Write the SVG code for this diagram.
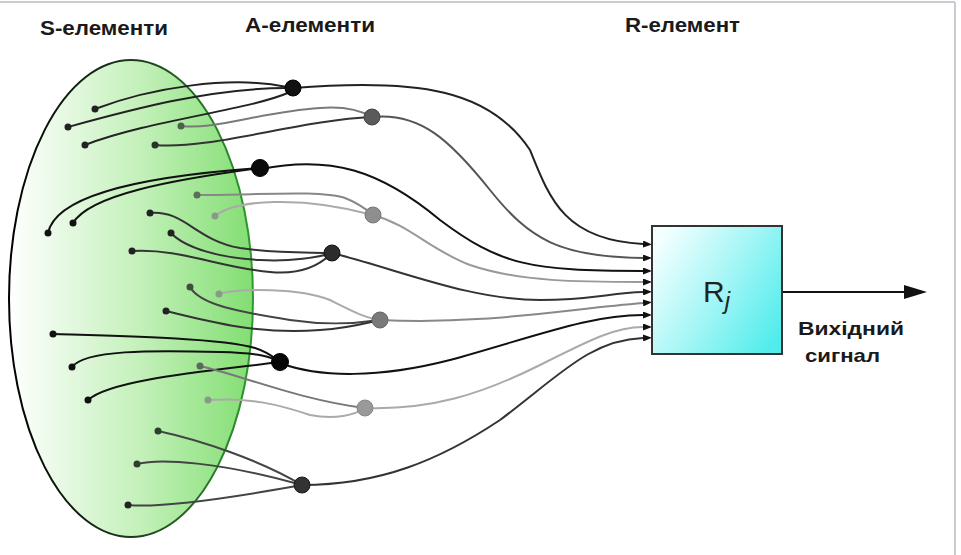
<svg xmlns="http://www.w3.org/2000/svg" width="961" height="555" viewBox="0 0 961 555">
<defs>
<linearGradient id="gS" x1="0" y1="0" x2="1" y2="0">
<stop offset="0" stop-color="#ffffff"/>
<stop offset="0.55" stop-color="#c2f0b8"/>
<stop offset="1" stop-color="#82de72"/>
</linearGradient>
<linearGradient id="gSs" x1="0" y1="0" x2="1" y2="0">
<stop offset="0" stop-color="#000000"/>
<stop offset="0.5" stop-color="#1c3a1c"/>
<stop offset="1" stop-color="#2e9a2e"/>
</linearGradient>
<linearGradient id="gR" x1="0" y1="0.2" x2="1" y2="0.8">
<stop offset="0" stop-color="#f4ffff"/>
<stop offset="0.5" stop-color="#a6f6f6"/>
<stop offset="1" stop-color="#52ecec"/>
</linearGradient>
<marker id="arr" markerUnits="userSpaceOnUse" markerWidth="9" markerHeight="7" refX="0" refY="3.5" orient="auto">
<path d="M0,0 L9,3.5 L0,7 z" fill="#111"/>
</marker>
</defs>
<style>
.lbl{font-family:"Liberation Sans",Arial,sans-serif;font-weight:bold;fill:#1a1a1a}
.c{fill:none;stroke-width:2;stroke-linecap:round}
.o{fill:none;stroke-width:2;marker-end:url(#arr)}
.s{stroke-width:1}
</style>
<rect x="0" y="0" width="961" height="555" fill="#ffffff"/>
<line x1="0" y1="2" x2="955" y2="2" stroke="#c9cdd2" stroke-width="2"/>
<line x1="955" y1="2" x2="955" y2="555" stroke="#c9cdd2" stroke-width="2"/>

<g id="s-layer">
<ellipse cx="131" cy="298.5" rx="122" ry="238.5" fill="url(#gS)" stroke="url(#gSs)" stroke-width="2"/>
</g>

<g id="connectors">
<!-- S to A1 -->
<path class="c" stroke="#222" d="M95,109 C150,88 230,75 287,87"/>
<path class="c" stroke="#222" d="M68,127 C130,110 210,88 287,88"/>
<path class="c" stroke="#222" d="M85,145 C150,120 250,110 290,92"/>
<!-- S to A2 -->
<path class="c" stroke="#7a7a7a" d="M181,126 C215,130 260,112 320,108 C345,106 360,110 372,117"/>
<path class="c" stroke="#333" d="M155,145 C210,150 300,120 372,117"/>
<!-- S to A3 -->
<path class="c" stroke="#111" d="M48,233 C55,200 120,178 260,168"/>
<path class="c" stroke="#111" d="M73,223 C90,195 170,180 260,168"/>
<!-- S to A4 -->
<path class="c" stroke="#888" d="M197,195 C260,195 320,190 345,198 C358,203 366,209 373,215"/>
<path class="c" stroke="#aaa" d="M215,216 C235,200 300,195 373,215"/>
<!-- S to A5 -->
<path class="c" stroke="#333" d="M150,213 C185,210 195,240 240,248 C280,254 310,252 332,253"/>
<path class="c" stroke="#333" d="M171,233 C185,248 220,258 260,260 C290,262 320,257 332,253"/>
<path class="c" stroke="#333" d="M132,251 C180,248 220,268 270,272 C300,275 320,265 332,253"/>
<!-- S to A6 -->
<path class="c" stroke="#444" d="M190,287 C200,305 240,312 290,320 C330,326 360,323 380,320"/>
<path class="c" stroke="#aaa" d="M219,294 C240,288 300,288 330,300 C350,310 365,318 380,320"/>
<path class="c" stroke="#333" d="M166,311 C210,322 260,335 320,330 C350,328 370,322 380,320"/>
<!-- S to A7 -->
<path class="c" stroke="#111" d="M53,334 C120,336 220,338 255,348 C268,352 275,358 280,362"/>
<path class="c" stroke="#111" d="M72,367 C85,350 150,350 220,352 C260,353 272,357 280,362"/>
<path class="c" stroke="#111" d="M88,400 C110,380 200,372 280,362"/>
<!-- S to A8 -->
<path class="c" stroke="#777" d="M200,366 C240,375 300,400 365,408"/>
<path class="c" stroke="#aaa" d="M208,400 C250,397 280,405 310,415 C335,420 355,415 365,408"/>
<!-- S to A9 -->
<path class="c" stroke="#444" d="M158,431 C200,440 260,460 302,485"/>
<path class="c" stroke="#444" d="M137,464 C160,458 220,462 302,485"/>
<path class="c" stroke="#444" d="M128,505 C160,508 230,498 302,485"/>
<!-- A to R -->
<path class="o" stroke="#222" d="M293,88 C420,78 490,90 530,150 C550,200 565,240 643,244"/>
<path class="o" stroke="#555" d="M372,117 C420,112 450,140 490,190 C530,240 560,257 643,258"/>
<path class="o" stroke="#111" d="M261,169 C330,155 380,170 440,220 C500,265 530,271 643,271"/>
<path class="o" stroke="#999" d="M373,215 C410,225 430,250 470,265 C520,282 580,282 643,282"/>
<path class="o" stroke="#333" d="M332,253 C400,270 470,300 540,300 C590,300 610,293 643,292"/>
<path class="o" stroke="#888" d="M380,320 C480,325 560,310 643,303"/>
<path class="o" stroke="#111" d="M280,363 C320,378 380,378 450,360 C540,335 590,315 643,315"/>
<path class="o" stroke="#aaa" d="M365,408 C430,410 480,395 540,365 C590,340 615,327 643,327"/>
<path class="o" stroke="#333" d="M302,485 C380,485 440,460 500,420 C560,375 590,340 643,338"/>
<!-- output -->
<line x1="782" y1="292" x2="906" y2="292" stroke="#111" stroke-width="2"/>
<polygon points="904,285 927,292 904,299" fill="#111"/>
</g>

<g id="s-elements">
<circle id="s1" cx="95" cy="109" r="3.5" fill="#222"/>
<circle id="s2" cx="68" cy="127" r="3.5" fill="#222"/>
<circle id="s3" cx="85" cy="145" r="3.5" fill="#222"/>
<circle id="s4" cx="181" cy="126" r="3.5" fill="#4d5f4d"/>
<circle id="s5" cx="155" cy="145" r="3.5" fill="#2a332a"/>
<circle id="s6" cx="48" cy="233" r="3.5" fill="#111"/>
<circle id="s7" cx="73" cy="223" r="3.5" fill="#111"/>
<circle id="s8" cx="197" cy="195" r="3.5" fill="#5d6d5d"/>
<circle id="s9" cx="215" cy="216" r="3.5" fill="#8a988a"/>
<circle id="s10" cx="150" cy="213" r="3.5" fill="#222"/>
<circle id="s11" cx="171" cy="233" r="3.5" fill="#222"/>
<circle id="s12" cx="132" cy="251" r="3.5" fill="#222"/>
<circle id="s13" cx="190" cy="287" r="3.5" fill="#3f4f3f"/>
<circle id="s14" cx="219" cy="294" r="3.5" fill="#8a988a"/>
<circle id="s15" cx="166" cy="311" r="3.5" fill="#222"/>
<circle id="s16" cx="53" cy="334" r="3.5" fill="#111"/>
<circle id="s17" cx="72" cy="367" r="3.5" fill="#111"/>
<circle id="s18" cx="88" cy="400" r="3.5" fill="#111"/>
<circle id="s19" cx="200" cy="366" r="3.5" fill="#5a6a5a"/>
<circle id="s20" cx="208" cy="400" r="3.5" fill="#8a988a"/>
<circle id="s21" cx="158" cy="431" r="3.5" fill="#2f3f2f"/>
<circle id="s22" cx="137" cy="464" r="3.5" fill="#2f3f2f"/>
<circle id="s23" cx="128" cy="505" r="3.5" fill="#222"/>
</g>

<g id="a1"><circle cx="293" cy="88" r="8" fill="#111" stroke="#000" class="s"/></g>
<g id="a2"><circle cx="372" cy="117" r="8" fill="#5a5a5a" stroke="#444" class="s"/></g>
<g id="a3"><circle cx="260" cy="168" r="8.5" fill="#0a0a0a" stroke="#000" class="s"/></g>
<g id="a4"><circle cx="373" cy="215" r="8" fill="#8e8e8e" stroke="#777" class="s"/></g>
<g id="a5"><circle cx="332" cy="253" r="8" fill="#2c2c2c" stroke="#111" class="s"/></g>
<g id="a6"><circle cx="380" cy="320" r="8" fill="#7a7a7a" stroke="#666" class="s"/></g>
<g id="a7"><circle cx="280" cy="362" r="8.5" fill="#050505" stroke="#000" class="s"/></g>
<g id="a8"><circle cx="365" cy="408" r="8" fill="#999" stroke="#888" class="s"/></g>
<g id="a9"><circle cx="302" cy="485" r="8" fill="#333" stroke="#1a1a1a" class="s"/></g>

<g id="r-element">
<rect x="652" y="226" width="130" height="128" fill="url(#gR)" stroke="#333" stroke-width="2"/>
<text x="703" y="302" font-family="Liberation Sans, Arial, sans-serif" font-size="30" fill="#222">R<tspan font-style="italic" font-size="24" dy="7">j</tspan></text>
</g>

<g id="labels">
<text class="lbl" x="40" y="35" font-size="20" textLength="128" lengthAdjust="spacingAndGlyphs">S-елементи</text>
<text class="lbl" x="245" y="32" font-size="20" textLength="130" lengthAdjust="spacingAndGlyphs">A-елементи</text>
<text class="lbl" x="625" y="32" font-size="20" textLength="115" lengthAdjust="spacingAndGlyphs">R-елемент</text>
<text class="lbl" x="798" y="335" font-size="19" textLength="106" lengthAdjust="spacingAndGlyphs">Вихідний</text>
<text class="lbl" x="805" y="362" font-size="19" textLength="75" lengthAdjust="spacingAndGlyphs">сигнал</text>
</g>
</svg>
